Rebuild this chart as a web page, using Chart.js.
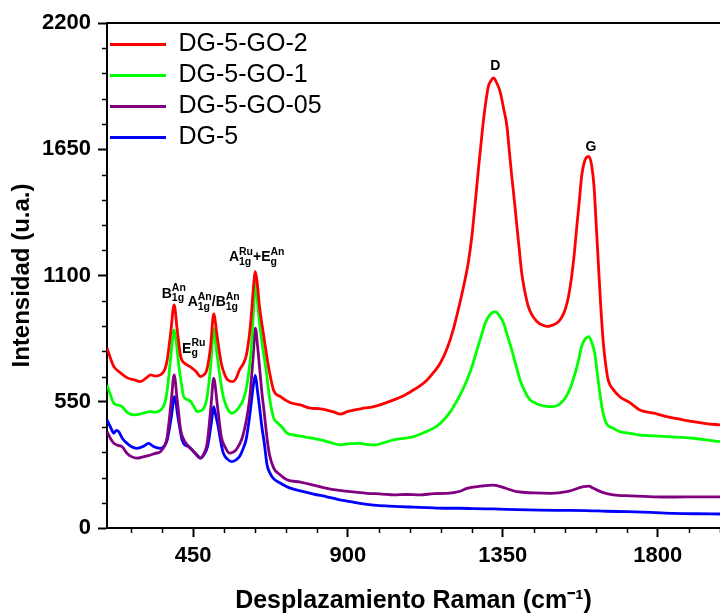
<!DOCTYPE html>
<html>
<head>
<meta charset="utf-8">
<script src="https://cdn.jsdelivr.net/npm/chart.js@4"></script>
<style>
  body { margin: 0; background: #fff; }
  canvas { display: block; }
</style>
</head>
<body>
<canvas id="ramanChart" width="720" height="616"></canvas>
<script>
// Raman spectra, x in cm-1, y in arbitrary units
const redX = [200, 210, 220, 240, 259, 280, 297, 315, 327, 340, 355, 368, 375, 385, 395, 404, 414, 425, 433, 447, 460, 471, 482, 490, 501, 510, 520, 532, 542, 551, 566, 576, 585, 596, 604, 612, 619, 625, 631, 637, 643, 653, 663, 672, 684, 704, 730, 762, 791, 815, 839, 860, 878, 900, 917, 940, 975, 1000, 1033, 1060, 1091, 1110, 1130, 1150, 1169, 1190, 1207, 1222, 1236, 1250, 1260, 1270, 1279, 1287, 1294, 1301, 1308, 1316, 1323, 1332, 1342, 1352, 1362, 1369, 1376, 1384, 1391, 1398, 1405, 1414, 1424, 1436, 1449, 1463, 1478, 1493, 1507, 1520, 1531, 1541, 1550, 1558, 1565, 1572, 1579, 1588, 1600, 1608, 1615, 1621, 1627, 1634, 1642, 1650, 1656, 1670, 1690, 1720, 1748, 1790, 1826, 1860, 1903, 1940, 1981];
const redY = [784, 740, 703, 675, 654, 645, 638, 655, 667, 662, 667, 690, 733, 850, 972, 863, 747, 718, 710, 697, 680, 660, 668, 689, 791, 933, 834, 718, 668, 645, 638, 655, 689, 715, 747, 820, 921, 1040, 1117, 1060, 965, 860, 760, 680, 600, 572, 548, 536, 522, 520, 514, 505, 496, 508, 514, 520, 529, 540, 558, 575, 602, 620, 645, 680, 720, 790, 870, 960, 1052, 1160, 1270, 1420, 1561, 1680, 1779, 1860, 1924, 1950, 1961, 1940, 1902, 1830, 1750, 1640, 1532, 1420, 1314, 1210, 1110, 1030, 965, 925, 900, 885, 878, 883, 893, 915, 951, 1010, 1096, 1200, 1314, 1420, 1532, 1600, 1619, 1580, 1488, 1330, 1168, 980, 805, 700, 645, 605, 572, 545, 514, 500, 485, 475, 463, 455, 449];

const greenX = [200, 210, 220, 232, 244, 258, 278, 300, 327, 340, 356, 368, 375, 385, 395, 402, 409, 416, 423, 433, 443, 452, 462, 475, 484, 491, 501, 510, 516, 523, 530, 538, 550, 562, 575, 585, 596, 604, 612, 619, 625, 631, 637, 643, 653, 663, 672, 684, 694, 708, 723, 745, 771, 800, 820, 850, 878, 905, 936, 960, 980, 1005, 1033, 1060, 1091, 1120, 1149, 1168, 1197, 1207, 1226, 1246, 1262, 1275, 1288, 1299, 1313, 1328, 1340, 1352, 1364, 1376, 1388, 1400, 1414, 1429, 1444, 1458, 1477, 1497, 1515, 1531, 1546, 1560, 1570, 1579, 1590, 1600, 1608, 1617, 1624, 1632, 1640, 1651, 1670, 1690, 1720, 1748, 1790, 1826, 1865, 1903, 1940, 1981];
const greenY = [623, 580, 543, 535, 529, 505, 493, 498, 507, 505, 514, 545, 602, 740, 863, 800, 703, 630, 572, 560, 551, 530, 507, 512, 530, 572, 703, 871, 800, 718, 640, 572, 520, 500, 510, 529, 560, 602, 680, 776, 930, 1070, 990, 893, 780, 680, 570, 480, 460, 440, 413, 405, 398, 390, 384, 372, 362, 368, 369, 363, 362, 372, 384, 390, 398, 415, 435, 455, 505, 529, 580, 645, 710, 776, 840, 893, 930, 943, 925, 893, 835, 776, 710, 645, 595, 558, 545, 536, 530, 529, 540, 565, 610, 674, 730, 791, 825, 834, 810, 762, 680, 587, 510, 456, 435, 420, 412, 405, 401, 398, 395, 391, 384, 376];

const purpleX = [200, 210, 220, 232, 244, 258, 270, 287, 305, 327, 340, 356, 368, 375, 387, 395, 404, 414, 423, 433, 452, 462, 471, 482, 491, 502, 510, 520, 532, 544, 556, 566, 575, 585, 594, 605, 614, 624, 631, 637, 643, 650, 657, 665, 672, 684, 700, 723, 762, 800, 839, 870, 907, 955, 1000, 1033, 1070, 1110, 1150, 1188, 1226, 1246, 1285, 1323, 1360, 1391, 1440, 1488, 1540, 1585, 1600, 1613, 1640, 1671, 1720, 1788, 1850, 1920, 1981];
const purpleY = [420, 390, 369, 360, 354, 326, 312, 304, 310, 318, 325, 333, 360, 398, 558, 667, 558, 427, 385, 362, 333, 318, 304, 325, 369, 529, 653, 543, 398, 350, 326, 330, 340, 365, 398, 470, 558, 733, 871, 800, 703, 590, 500, 390, 320, 262, 235, 210, 200, 187, 173, 165, 158, 151, 148, 144, 146, 144, 150, 151, 160, 173, 182, 187, 172, 158, 153, 151, 160, 180, 182, 173, 155, 144, 140, 136, 135, 136, 136];

const blueX = [200, 210, 220, 227, 234, 245, 258, 270, 287, 305, 321, 335, 356, 368, 375, 387, 396, 406, 418, 428, 438, 450, 462, 471, 482, 492, 503, 510, 516, 523, 530, 538, 550, 562, 575, 585, 594, 604, 612, 619, 625, 631, 637, 643, 650, 657, 665, 675, 684, 704, 730, 762, 800, 839, 870, 907, 940, 975, 1010, 1052, 1090, 1130, 1180, 1226, 1270, 1323, 1390, 1458, 1520, 1594, 1650, 1710, 1780, 1846, 1910, 1981];
const blueY = [471, 440, 413, 425, 420, 390, 369, 355, 347, 355, 369, 355, 347, 360, 384, 485, 572, 485, 384, 360, 354, 335, 315, 304, 320, 354, 456, 529, 490, 442, 380, 326, 300, 289, 297, 311, 340, 384, 460, 543, 620, 665, 600, 529, 440, 369, 275, 235, 215, 195, 175, 162, 148, 136, 125, 115, 106, 100, 96, 93, 91, 89, 86, 86, 84, 83, 80, 78, 77, 76, 73, 71, 68, 64, 62, 61];

const seriesNames = ['DG-5-GO-2', 'DG-5-GO-1', 'DG-5-GO-05', 'DG-5'];
const seriesColors = ['#ff0000', '#00ff00', '#800080', '#0000ff'];

const xTicks = [450, 900, 1350, 1800];
const yTicks = [0, 550, 1100, 1650, 2200];

// band assignments: [main, subscript, superscript] pieces
const peakLabels = [
  { x: 1328, y: 1997, parts: [['D']] },
  { x: 1606, y: 1641, parts: [['G']] },
  { x: 394, y: 1003, parts: [['B', '1g', 'An']] },
  { x: 452, y: 763, parts: [['E', 'g', 'Ru']] },
  { x: 510, y: 965, parts: [['A', '1g', 'An'], ['/'], ['B', '1g', 'An']] },
  { x: 635, y: 1161, parts: [['A', '1g', 'Ru'], ['+'], ['E', 'g', 'An']] }
];

const FONT = "'Liberation Sans', Arial, sans-serif";

function toPoints(xs, ys) {
  return xs.map((v, i) => ({ x: v, y: ys[i] }));
}

const seriesData = [toPoints(redX, redY), toPoints(greenX, greenY), toPoints(purpleX, purpleY), toPoints(blueX, blueY)];

// axis frame extras: top line plus minor ticks; also nudges the legend down
const framePlugin = {
  id: 'frame',
  afterLayout(chart) {
    const lg = chart.legend;
    if (lg) {
      lg.top += 26; lg.bottom += 26;
      lg.left -= 3; lg.right -= 3;
    }
  },
  afterDraw(chart) {
    const { ctx, chartArea: a, scales: { x, y } } = chart;
    ctx.save();
    ctx.strokeStyle = '#000';
    ctx.lineWidth = 2;
    ctx.beginPath();
    ctx.moveTo(a.left, a.top);
    ctx.lineTo(a.right, a.top);
    ctx.stroke();
    ctx.lineWidth = 1.5;
    ctx.beginPath();
    for (let v = 270; v < x.max; v += 90) {
      if (v % 450 === 0) continue;
      const px = Math.round(x.getPixelForValue(v)) + 0.5;
      ctx.moveTo(px, a.bottom);
      ctx.lineTo(px, a.bottom + 5);
    }
    for (let v = 110; v < y.max; v += 110) {
      if (v % 550 === 0) continue;
      const py = Math.round(y.getPixelForValue(v)) + 0.5;
      ctx.moveTo(a.left, py);
      ctx.lineTo(a.left - 5, py);
    }
    ctx.stroke();
    ctx.restore();
  }
};

const peakLabelPlugin = {
  id: 'peakLabels',
  afterDatasetsDraw(chart) {
    const { ctx, scales: { x, y } } = chart;
    const bigFont = 'bold 14px ' + FONT;
    const smallFont = 'bold 10.5px ' + FONT;
    ctx.save();
    ctx.fillStyle = '#000';
    ctx.textBaseline = 'alphabetic';
    ctx.textAlign = 'left';
    peakLabels.forEach(lbl => {
      const px = x.getPixelForValue(lbl.x);
      const py = y.getPixelForValue(lbl.y);
      let total = 0;
      const pieces = lbl.parts.map(([main, sub, sup]) => {
        ctx.font = bigFont;
        const mw = ctx.measureText(main).width;
        ctx.font = smallFont;
        const sw = Math.max(sub ? ctx.measureText(sub).width : 0, sup ? ctx.measureText(sup).width : 0);
        total += mw + sw;
        return { main, sub, sup, mw, sw };
      });
      let cx = px - total / 2;
      pieces.forEach(p => {
        ctx.font = bigFont;
        ctx.fillText(p.main, cx, py);
        cx += p.mw;
        ctx.font = smallFont;
        if (p.sub) ctx.fillText(p.sub, cx, py + 3.5);
        if (p.sup) ctx.fillText(p.sup, cx, py - 6.5);
        cx += p.sw;
      });
    });
    ctx.restore();
  }
};

const ctx = document.getElementById('ramanChart').getContext('2d');

const ramanChart = new Chart(ctx, {
  type: 'line',
  data: {
    datasets: seriesData.map((pts, i) => ({
      label: seriesNames[i],
      data: pts,
      borderColor: seriesColors[i],
      backgroundColor: seriesColors[i],
      borderWidth: 2.8,
      pointRadius: 0,
      cubicInterpolationMode: 'monotone',
      fill: false
    }))
  },
  options: {
    responsive: false,
    animation: false,
    layout: { padding: { top: 23, right: 0, bottom: 0, left: 0 } },
    scales: {
      x: {
        type: 'linear',
        min: 200,
        max: 1981,
        afterBuildTicks: s => { s.ticks = xTicks.map(v => ({ value: v })); },
        afterFit: s => { s.height = 88; },
        grid: { drawOnChartArea: false, tickLength: 9, tickColor: '#000', tickWidth: 2 },
        border: { color: '#000', width: 2 },
        ticks: {
          color: '#000',
          font: { family: FONT, size: 22, weight: 'bold' },
          padding: 6,
          autoSkip: false,
          maxRotation: 0,
          callback: v => String(v)
        },
        title: {
          display: true,
          text: 'Desplazamiento Raman (cm\u207B\u00B9)',
          color: '#000',
          font: { family: FONT, size: 25, weight: 'bold' },
          padding: { top: 0, bottom: 0 }
        }
      },
      y: {
        min: 0,
        max: 2200,
        afterBuildTicks: s => { s.ticks = yTicks.map(v => ({ value: v })); },
        afterFit: s => { s.width = 107; },
        grid: { drawOnChartArea: false, tickLength: 9, tickColor: '#000', tickWidth: 2 },
        border: { color: '#000', width: 2 },
        ticks: {
          color: '#000',
          font: { family: FONT, size: 22, weight: 'bold' },
          padding: 7,
          callback: v => String(v)
        },
        title: {
          display: true,
          text: 'Intensidad (u.a.)',
          color: '#000',
          font: { family: FONT, size: 24, weight: 'bold' },
          padding: { top: 8, bottom: 0 }
        }
      }
    },
    plugins: {
      legend: {
        position: 'chartArea',
        align: 'start',
        labels: {
          color: '#000',
          font: { family: FONT, size: 25 },
          boxWidth: 56,
          boxHeight: 3,
          padding: 6,
          generateLabels: chart => Chart.defaults.plugins.legend.labels.generateLabels(chart).map(l => ({ ...l, lineWidth: 0 }))
        }
      },
      tooltip: { enabled: false }
    }
  },
  plugins: [framePlugin, peakLabelPlugin]
});
</script>
</body>
</html>
